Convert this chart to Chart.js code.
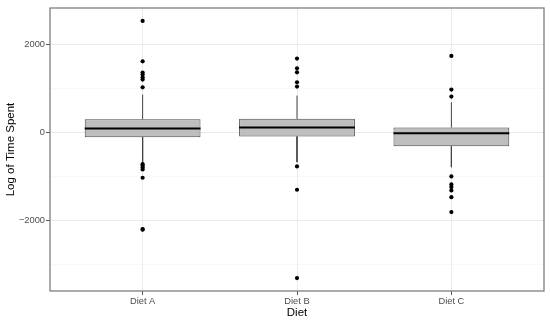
<!DOCTYPE html>
<html>
<head>
<meta charset="utf-8">
<script src="https://cdn.jsdelivr.net/npm/chart.js@4.4.1/dist/chart.umd.min.js"></script>
<style>
  html, body { margin: 0; padding: 0; background: #ffffff; }
  #wrap { width: 550px; height: 323px; }
</style>
</head>
<body>
<div id="wrap"><canvas id="c" width="550" height="323"></canvas></div>
<script>
// ---- Data ----
const categories = ['Diet A', 'Diet B', 'Diet C'];
const q1Values = [-100, -84, -305];
const medianValues = [98, 120, -10];
const q3Values = [309, 318, 120];
const whiskerLow = [-675, -668, -782];
const whiskerHigh = [870, 847, 695];
const outliersA = [2546, 1627, 1370, 1325, 1264, 1211, 1036, -715, -750, -790, -835, -1023, -2190, -2205];
const outliersB = [1689, 1468, 1377, 1150, 1052, -766, -1296, -3305];
const outliersC = [1750, 984, 825, -993, -1175, -1236, -1311, -1464, -1805];
const yMajorTicks = [-2000, 0, 2000];
const yMinorTicks = [-3000, -1000, 1000];

// ---- Derived datasets ----
const BOX_WIDTH = 0.75;
const positions = categories.map((_, i) => i + 1);
const outlierGroups = [outliersA, outliersB, outliersC];

const boxData = positions.map((x, i) => ({ x: x, y: [q1Values[i], q3Values[i]] }));
const whiskerData = [];
positions.forEach((x, i) => {
  whiskerData.push({ x: x, y: q3Values[i] }, { x: x, y: whiskerHigh[i] }, { x: x, y: null });
  whiskerData.push({ x: x, y: q1Values[i] }, { x: x, y: whiskerLow[i] }, { x: x, y: null });
});
const medianData = [];
positions.forEach((x, i) => {
  medianData.push({ x: x - BOX_WIDTH / 2, y: medianValues[i] },
                  { x: x + BOX_WIDTH / 2, y: medianValues[i] },
                  { x: x, y: null });
});
const outlierData = [];
outlierGroups.forEach((arr, i) => arr.forEach(v => outlierData.push({ x: positions[i], y: v })));

const allYTicks = yMinorTicks.concat(yMajorTicks).sort((a, b) => a - b);
const isMajor = v => yMajorTicks.includes(v);

const frame = {
  id: 'frame',
  afterDraw(chart) {
    const a = chart.chartArea, ctx = chart.ctx;
    ctx.save();
    ctx.strokeStyle = '#7f7f7f';
    ctx.lineWidth = 1.3;
    ctx.strokeRect(a.left, a.top, a.right - a.left, a.bottom - a.top);
    ctx.restore();
  }
};

const FONT = "'Liberation Sans', Arial, sans-serif";

new Chart(document.getElementById('c'), {
  data: {
    datasets: [
      {
        type: 'scatter', label: 'outliers', data: outlierData, order: 0,
        pointRadius: 2.1, pointBackgroundColor: '#000000', pointBorderWidth: 0,
        showLine: false
      },
      {
        type: 'line', label: 'median', data: medianData, order: 1,
        borderColor: '#000000', borderWidth: 2, pointRadius: 0, spanGaps: false, tension: 0
      },
      {
        type: 'bar', label: 'box', data: boxData, order: 2,
        backgroundColor: '#bebebe', borderColor: '#4a4a4a', borderWidth: 1,
        borderSkipped: false, barPercentage: BOX_WIDTH, categoryPercentage: 1
      },
      {
        type: 'line', label: 'whisker', data: whiskerData, order: 3,
        borderColor: '#444444', borderWidth: 1, pointRadius: 0, spanGaps: false, tension: 0
      }
    ]
  },
  options: {
    responsive: false,
    animation: false,
    layout: { padding: { top: 8, right: 6, bottom: 0, left: 0 } },
    plugins: { legend: { display: false }, tooltip: { enabled: false } },
    scales: {
      x: {
        type: 'linear', min: 0.4, max: 3.6, offset: false,
        afterBuildTicks: s => { s.ticks = positions.map(v => ({ value: v })); },
        afterFit: s => { s.height = 32; },
        grid: { offset: false, color: '#ebebeb', lineWidth: 1, tickLength: 4, tickColor: '#555555', tickWidth: 1 },
        border: { display: false },
        ticks: {
          padding: 1, color: '#4d4d4d', font: { family: FONT, size: 9.3 },
          callback: v => categories[Math.round(v) - 1] || ''
        },
        title: {
          display: true, text: 'Diet', color: '#000000',
          font: { family: FONT, size: 11.5 }, padding: { top: 0, bottom: 3 }
        }
      },
      y: {
        type: 'linear', min: -3600, max: 2840,
        afterBuildTicks: s => { s.ticks = allYTicks.map(v => ({ value: v })); },
        afterFit: s => { s.width = 50; },
        grid: {
          color: c => isMajor(c.tick.value) ? '#ebebeb' : '#f4f4f4',
          lineWidth: c => isMajor(c.tick.value) ? 1 : 0.6,
          tickLength: 4,
          tickColor: c => isMajor(c.tick.value) ? '#555555' : 'rgba(0,0,0,0)',
          tickWidth: 1
        },
        border: { display: false },
        ticks: {
          padding: 1, color: '#4d4d4d', font: { family: FONT, size: 9.3 },
          callback: v => isMajor(v) ? String(v).replace('-', '\u2212') : ''
        },
        title: {
          display: true, text: 'Log of Time Spent', color: '#000000',
          font: { family: FONT, size: 11.5 }, padding: { top: 4, bottom: 0 }
        }
      }
    }
  },
  plugins: [frame]
});
</script>
</body>
</html>
